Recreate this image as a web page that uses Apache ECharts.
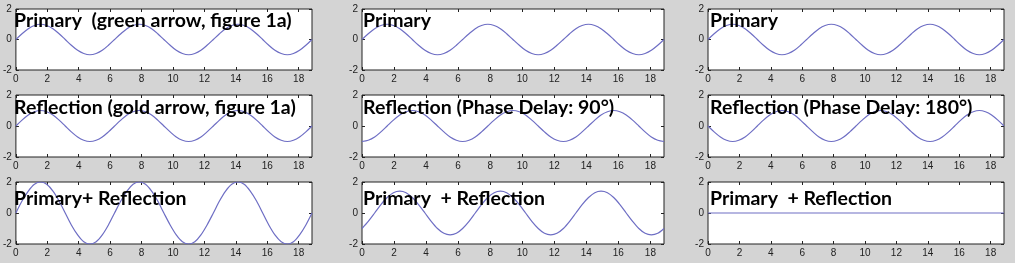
<!DOCTYPE html>
<html><head><meta charset="utf-8">
<script src="https://cdn.jsdelivr.net/npm/echarts@6/dist/echarts.min.js"></script>
<style>html,body{margin:0;padding:0;background:#d4d4d4}#c{width:1015px;height:263px}</style>
</head><body><div id="c"></div>
<script>
const xValues=[0,0.39,0.79,1.18,1.57,1.96,2.36,2.75,3.14,3.53,3.93,4.32,4.71,5.11,5.50,5.89,6.28,6.68,7.07,7.46,7.85,8.25,8.64,9.03,9.42,9.82,10.21,10.60,11.00,11.39,11.78,12.17,12.57,12.96,13.35,13.74,14.14,14.53,14.92,15.32,15.71,16.10,16.49,16.89,17.28,17.67,18.06,18.46,18.85];
const primaryA=[0,.38,.71,.92,1,.92,.71,.38,0,-.38,-.71,-.92,-1,-.92,-.71,-.38,0,.38,.71,.92,1,.92,.71,.38,0,-.38,-.71,-.92,-1,-.92,-.71,-.38,0,.38,.71,.92,1,.92,.71,.38,0,-.38,-.71,-.92,-1,-.92,-.71,-.38,0];
const reflectionGold=[0,.38,.71,.92,1,.92,.71,.38,0,-.38,-.71,-.92,-1,-.92,-.71,-.38,0,.38,.71,.92,1,.92,.71,.38,0,-.38,-.71,-.92,-1,-.92,-.71,-.38,0,.38,.71,.92,1,.92,.71,.38,0,-.38,-.71,-.92,-1,-.92,-.71,-.38,0];
const sumGold=[0,.77,1.41,1.85,2,1.85,1.41,.77,0,-.77,-1.41,-1.85,-2,-1.85,-1.41,-.77,0,.77,1.41,1.85,2,1.85,1.41,.77,0,-.77,-1.41,-1.85,-2,-1.85,-1.41,-.77,0,.77,1.41,1.85,2,1.85,1.41,.77,0,-.77,-1.41,-1.85,-2,-1.85,-1.41,-.77,0];
const primaryB=[0,.38,.71,.92,1,.92,.71,.38,0,-.38,-.71,-.92,-1,-.92,-.71,-.38,0,.38,.71,.92,1,.92,.71,.38,0,-.38,-.71,-.92,-1,-.92,-.71,-.38,0,.38,.71,.92,1,.92,.71,.38,0,-.38,-.71,-.92,-1,-.92,-.71,-.38,0];
const reflection90=[-1,-.92,-.71,-.38,0,.38,.71,.92,1,.92,.71,.38,0,-.38,-.71,-.92,-1,-.92,-.71,-.38,0,.38,.71,.92,1,.92,.71,.38,0,-.38,-.71,-.92,-1,-.92,-.71,-.38,0,.38,.71,.92,1,.92,.71,.38,0,-.38,-.71,-.92,-1];
const sum90=[-1,-.54,0,.54,1,1.31,1.41,1.31,1,.54,0,-.54,-1,-1.31,-1.41,-1.31,-1,-.54,0,.54,1,1.31,1.41,1.31,1,.54,0,-.54,-1,-1.31,-1.41,-1.31,-1,-.54,0,.54,1,1.31,1.41,1.31,1,.54,0,-.54,-1,-1.31,-1.41,-1.31,-1];
const primaryC=[0,.38,.71,.92,1,.92,.71,.38,0,-.38,-.71,-.92,-1,-.92,-.71,-.38,0,.38,.71,.92,1,.92,.71,.38,0,-.38,-.71,-.92,-1,-.92,-.71,-.38,0,.38,.71,.92,1,.92,.71,.38,0,-.38,-.71,-.92,-1,-.92,-.71,-.38,0];
const reflection180=[0,-.38,-.71,-.92,-1,-.92,-.71,-.38,0,.38,.71,.92,1,.92,.71,.38,0,-.38,-.71,-.92,-1,-.92,-.71,-.38,0,.38,.71,.92,1,.92,.71,.38,0,-.38,-.71,-.92,-1,-.92,-.71,-.38,0,.38,.71,.92,1,.92,.71,.38,0];
const sum180=[0,0,0,0,0,0,0,0,0,0,0,0,0,0,0,0,0,0,0,0,0,0,0,0,0,0,0,0,0,0,0,0,0,0,0,0,0,0,0,0,0,0,0,0,0,0,0,0,0];
const titles=["Primary  (green arrow, figure 1a)","Reflection (gold arrow, figure 1a)","Primary+ Reflection","Primary","Reflection (Phase Delay: 90°)","Primary  + Reflection","Primary","Reflection (Phase Delay: 180°)","Primary  + Reflection"];
const xTicks=[0,2,4,6,8,10,12,14,16,18];
const yTicks=[-2,0,2];

const seriesData=[primaryA,reflectionGold,sumGold,primaryB,reflection90,sum90,primaryC,reflection180,sum180];
const cols=[[12,300],[362,302],[708,296]];
const rows=[[9,61],[95,62],[182,62]];
const titleLeft=[14,363,710];
const titleTop=[11,98,189];

const grid=[],xAxis=[],yAxis=[],series=[],title=[];
const lab={color:'#222',fontSize:10,fontFamily:'Liberation Sans, Arial, sans-serif'};
const tick=v=>({show:true,inside:true,length:3,customValues:v,lineStyle:{color:'#222'}});
for(let c=0;c<3;c++){for(let r=0;r<3;r++){
  const i=c*3+r;
  grid.push({left:cols[c][0],top:rows[r][0],width:cols[c][1],height:rows[r][1],show:true,backgroundColor:'#fff',borderColor:'#222',borderWidth:1,containLabel:false});
  xAxis.push(
    {gridIndex:i,type:'value',min:0,max:18.85,position:'bottom',
     axisLine:{show:false,onZero:false},splitLine:{show:false},axisTick:tick(xTicks),
     axisLabel:Object.assign({show:true,margin:4,customValues:xTicks},lab)},
    {gridIndex:i,type:'value',min:0,max:18.85,position:'top',
     axisLine:{show:false,onZero:false},splitLine:{show:false},axisTick:tick(xTicks),
     axisLabel:{show:false}});
  yAxis.push(
    {gridIndex:i,type:'value',min:-2,max:2,position:'left',
     axisLine:{show:false,onZero:false},splitLine:{show:false},axisTick:tick(yTicks),
     axisLabel:Object.assign({show:true,margin:4,customValues:yTicks},lab)},
    {gridIndex:i,type:'value',min:-2,max:2,position:'right',
     axisLine:{show:false,onZero:false},splitLine:{show:false},axisTick:tick(yTicks),
     axisLabel:{show:false}});
  series.push({type:'line',xAxisIndex:i*2,yAxisIndex:i*2,showSymbol:false,smooth:0.3,
    data:xValues.map((x,k)=>[x,seriesData[i][k]]),
    lineStyle:{color:'#6e6ec4',width:1.2},z:2});
  title.push({text:titles[i],left:titleLeft[c],top:titleTop[r],padding:0,
    textStyle:{fontFamily:'Lato',fontWeight:'bold',fontSize:19.5,color:'#000'},z:5});
}}
const chart=echarts.init(document.getElementById('c'),null,{renderer:'canvas'});
chart.setOption({backgroundColor:'#d4d4d4',animation:false,title,grid,xAxis,yAxis,series});
</script></body></html>
